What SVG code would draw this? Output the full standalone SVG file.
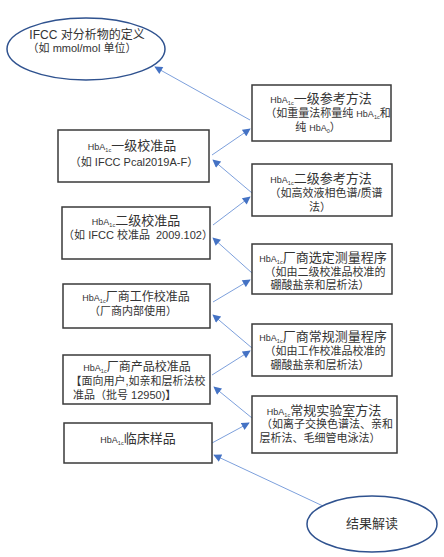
<svg xmlns="http://www.w3.org/2000/svg" width="444" height="557" viewBox="0 0 444 557">
<defs>
<style>
text{font-family:"Liberation Sans","Noto Sans CJK SC",sans-serif;fill:#333;text-anchor:middle}
.t{font-size:13px}
.t2{font-size:12px}
.s{font-size:11px}
.h{font-size:9px}
.sb{font-size:5.5px}
.box{fill:#fff;stroke:#3a3a3a;stroke-width:1.5}
.ell{fill:#fff;stroke:#2f528f;stroke-width:1.5}
.c{stroke:#7da0dc;stroke-width:1;fill:none;marker-end:url(#ah)}
</style>
<marker id="ah" viewBox="0 0 10 10" refX="9" refY="5" markerWidth="9" markerHeight="8" markerUnits="userSpaceOnUse" orient="auto">
<path d="M0,0 L10,5 L0,10 z" fill="#4472c4"/>
</marker>
</defs>
<rect width="444" height="557" fill="#fff"/>

<g id="connectors">
<line class="c" x1="250" y1="120" x2="155" y2="67"/>
<line class="c" x1="212" y1="155" x2="250" y2="129"/>
<line class="c" x1="252" y1="193" x2="213" y2="160"/>
<line class="c" x1="213" y1="225" x2="250" y2="197"/>
<line class="c" x1="252" y1="273" x2="213" y2="238"/>
<line class="c" x1="213" y1="302" x2="250" y2="280"/>
<line class="c" x1="252" y1="348" x2="213" y2="315"/>
<line class="c" x1="212" y1="375" x2="250" y2="351"/>
<line class="c" x1="252" y1="418" x2="214" y2="387"/>
<line class="c" x1="212" y1="443" x2="249" y2="423"/>
<line class="c" x1="323" y1="506" x2="214" y2="455"/>
</g>

<g id="ifcc">
<ellipse class="ell" cx="86" cy="49" rx="79" ry="31"/>
<text class="t2" x="87" y="39">IFCC 对分析物的定义</text>
<text class="s" x="82" y="52">（如 mmol/mol 单位）</text>
</g>

<g id="result">
<ellipse class="ell" cx="372" cy="524" rx="65" ry="28"/>
<text class="t" x="372" y="528">结果解读</text>
</g>

<g id="ref1">
<rect class="box" x="252" y="85" width="139" height="56"/>
<text class="t" x="321" y="103"><tspan class="h">HbA</tspan><tspan class="sb" dy="2">1c</tspan><tspan dy="-2">一级参考方法</tspan></text>
<text class="s" x="328" y="117">（如重量法称量纯 <tspan class="h">HbA</tspan><tspan class="sb" dy="2">1c</tspan><tspan dy="-2">和</tspan></text>
<text class="s" x="318" y="131">纯 <tspan class="h">HbA</tspan><tspan class="sb" dy="2">0</tspan><tspan dy="-2">）</tspan></text>
</g>

<g id="ref2">
<rect class="box" x="252" y="164" width="140" height="52"/>
<text class="t" x="321" y="183"><tspan class="h">HbA</tspan><tspan class="sb" dy="2">1c</tspan><tspan dy="-2">二级参考方法</tspan></text>
<text class="s" x="326" y="197">（如高效液相色谱/质谱</text>
<text class="s" x="320" y="211">法）</text>
</g>

<g id="mfr-selected">
<rect class="box" x="252" y="244" width="140" height="50"/>
<text class="t" x="323" y="262"><tspan class="h">HbA</tspan><tspan class="sb" dy="2">1c</tspan><tspan dy="-2">厂商选定测量程序</tspan></text>
<text class="s" x="325" y="276">（如由二级校准品校准的</text>
<text class="s" x="320" y="289">硼酸盐亲和层析法）</text>
</g>

<g id="mfr-routine">
<rect class="box" x="252" y="324" width="140" height="52"/>
<text class="t" x="323" y="341"><tspan class="h">HbA</tspan><tspan class="sb" dy="2">1c</tspan><tspan dy="-2">厂商常规测量程序</tspan></text>
<text class="s" x="325" y="355">（如由工作校准品校准的</text>
<text class="s" x="320" y="369">硼酸盐亲和层析法）</text>
</g>

<g id="lab-method">
<rect class="box" x="252" y="396" width="145" height="57"/>
<text class="t" x="324" y="415"><tspan class="h">HbA</tspan><tspan class="sb" dy="2">1c</tspan><tspan dy="-2">常规实验室方法</tspan></text>
<text class="s" x="327" y="428">（如离子交换色谱法、亲和</text>
<text class="s" x="320" y="442">层析法、毛细管电泳法）</text>
</g>

<g id="cal1">
<rect class="box" x="58" y="130" width="151" height="52"/>
<text class="t" x="132" y="150"><tspan class="h">HbA</tspan><tspan class="sb" dy="2">1c</tspan><tspan dy="-2">一级校准品</tspan></text>
<text class="s" x="134" y="166">（如 IFCC Pcal2019A-F）</text>
</g>

<g id="cal2">
<rect class="box" x="62" y="207" width="148" height="52"/>
<text class="t" x="136" y="225"><tspan class="h">HbA</tspan><tspan class="sb" dy="2">1c</tspan><tspan dy="-2">二级校准品</tspan></text>
<text class="s" x="138" y="239">（如 IFCC 校准品&#160; 2009.102）</text>
</g>

<g id="cal-work">
<rect class="box" x="63" y="284" width="147" height="44"/>
<text class="t2" x="136" y="301"><tspan class="h">HbA</tspan><tspan class="sb" dy="2">1c</tspan><tspan dy="-2">厂商工作校准品</tspan></text>
<text class="s" x="133" y="315">（厂商内部使用）</text>
</g>

<g id="cal-product">
<rect class="box" x="63" y="355" width="147" height="49"/>
<text class="t2" x="137" y="371"><tspan class="h">HbA</tspan><tspan class="sb" dy="2">1c</tspan><tspan dy="-2">厂商产品校准品</tspan></text>
<text class="s" x="138" y="385">【面向用户,如亲和层析法校</text>
<text class="s" x="73" y="399" style="text-anchor:start">准品（批号 12950)】</text>
</g>

<g id="clinical">
<rect class="box" x="64" y="423" width="148" height="40"/>
<text class="t" x="138" y="443"><tspan class="h">HbA</tspan><tspan class="sb" dy="2">1c</tspan><tspan dy="-2">临床样品</tspan></text>
</g>
</svg>
